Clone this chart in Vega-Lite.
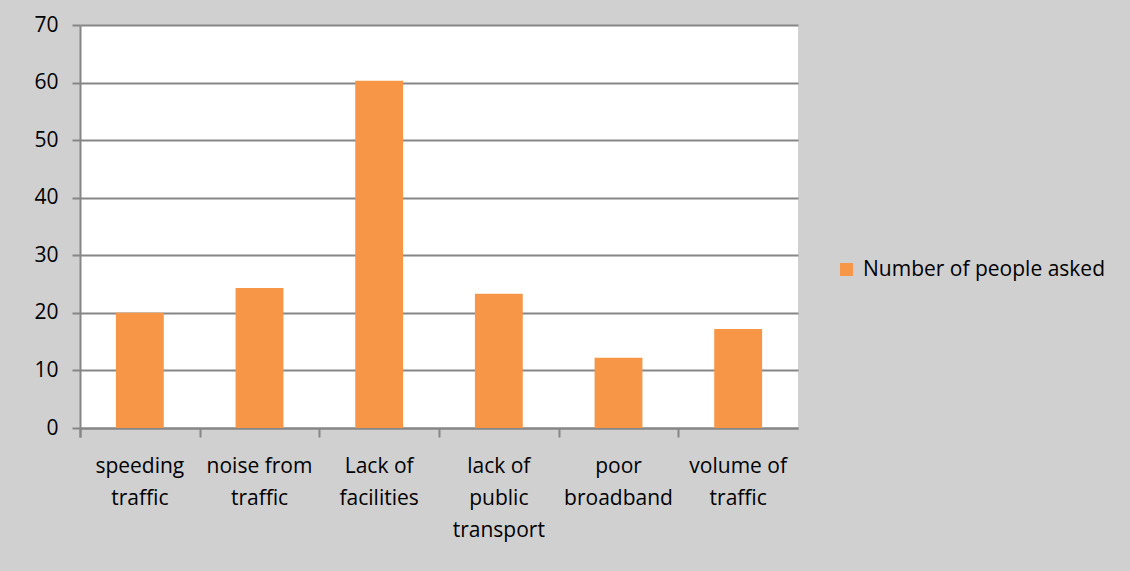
{
  "$schema": "https://vega.github.io/schema/vega-lite/v6.json",
  "autosize": "none",
  "width": 718,
  "height": 403,
  "padding": {"left": 80, "top": 25, "right": 332, "bottom": 143},
  "background": "#d0d0d0",
  "data": {
    "values": [
      {"issue": "speeding traffic", "count": 20, "series": "Number of people asked"},
      {"issue": "noise from traffic", "count": 24.3, "series": "Number of people asked"},
      {"issue": "Lack of facilities", "count": 60.3, "series": "Number of people asked"},
      {"issue": "lack of public transport", "count": 23.3, "series": "Number of people asked"},
      {"issue": "poor broadband", "count": 12.2, "series": "Number of people asked"},
      {"issue": "volume of traffic", "count": 17.2, "series": "Number of people asked"}
    ]
  },
  "resolve": {"axis": {"x": "independent"}},
  "layer": [
    {
      "mark": {"type": "bar"},
      "encoding": {
        "x": {
          "field": "issue",
          "type": "nominal",
          "sort": null,
          "scale": {"paddingInner": 0.6, "paddingOuter": 0.3},
          "axis": {
            "orient": "bottom",
            "title": null,
            "labelAngle": 0,
            "labelFont": "Open Sans",
            "labelFontSize": 21,
            "labelColor": "#000000",
            "labelLineHeight": 32,
            "labelPadding": 27,
            "labelBaseline": "top",
            "ticks": false,
            "domainColor": "#868686",
            "domainWidth": 2,
            "grid": false,
            "labelExpr": "datum.value == 'speeding traffic' ? ['speeding', 'traffic'] : datum.value == 'noise from traffic' ? ['noise from', 'traffic'] : datum.value == 'Lack of facilities' ? ['Lack of', 'facilities'] : datum.value == 'lack of public transport' ? ['lack of', 'public', 'transport'] : datum.value == 'poor broadband' ? ['poor', 'broadband'] : ['volume of', 'traffic']"
          }
        },
        "y": {
          "field": "count",
          "type": "quantitative",
          "scale": {"domain": [0, 70], "nice": false},
          "axis": {
            "title": null,
            "values": [0, 10, 20, 30, 40, 50, 60, 70],
            "labelFont": "Open Sans",
            "labelFontSize": 21,
            "labelColor": "#000000",
            "labelPadding": 14,
            "tickSize": 8,
            "tickColor": "#868686",
            "tickWidth": 2,
            "domainColor": "#868686",
            "domainWidth": 2,
            "gridColor": "#868686",
            "gridWidth": 2
          }
        },
        "color": {
          "field": "series",
          "type": "nominal",
          "scale": {"range": ["#f79646"]},
          "legend": {
            "title": null,
            "orient": "none",
            "legendX": 756,
            "legendY": 234,
            "symbolType": "square",
            "symbolSize": 170,
            "symbolStrokeWidth": 0,
            "labelFont": "Open Sans",
            "labelFontSize": 21,
            "labelColor": "#000000",
            "labelOffset": 6,
            "labelLimit": 400
          }
        }
      }
    },
    {
      "mark": {"type": "bar", "opacity": 0},
      "encoding": {
        "x": {
          "field": "issue",
          "type": "nominal",
          "sort": null,
          "axis": {
            "orient": "bottom",
            "title": null,
            "labels": false,
            "domain": false,
            "grid": false,
            "bandPosition": 0,
            "tickExtra": true,
            "tickOffset": -36,
            "tickSize": 9,
            "tickColor": "#868686",
            "tickWidth": 2
          }
        },
        "y": {"field": "count", "type": "quantitative"}
      }
    }
  ],
  "config": {
    "view": {"fill": "#ffffff", "stroke": null}
  }
}
